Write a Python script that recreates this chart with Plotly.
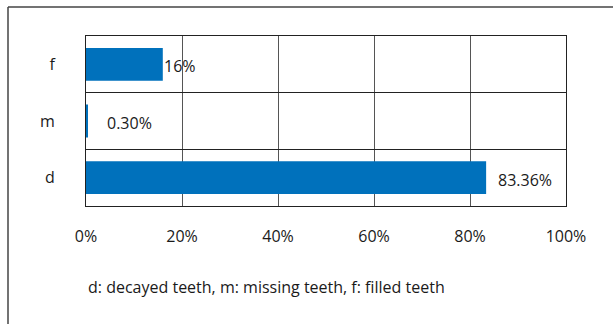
import plotly.graph_objects as go

# DMF components of the caries index (share of total, %)
categories = ["d", "m", "f"]
shares = [83.36, 0.30, 16]
value_labels = ["83.36%", "0.30%", "16%"]
x_ticks = [0, 20, 40, 60, 80, 100]
x_tick_labels = ["0%", "20%", "40%", "60%", "80%", "100%"]
footnote = "d: decayed teeth, m: missing teeth, f: filled teeth"

# horizontal nudge of each value label away from its bar end (px)
label_shift = [11, 19, 0]

FONT = "Open Sans"
FS = 16
BAR = "#0071BC"

fig = go.Figure(
    go.Bar(
        y=categories,
        x=shares,
        orientation="h",
        marker=dict(color=BAR, line=dict(width=0)),
        hoverinfo="skip",
    )
)

for cat, val, lab, dx in zip(categories, shares, value_labels, label_shift):
    fig.add_annotation(
        x=val, y=cat, xref="x", yref="y", text=lab, showarrow=False,
        xanchor="left", yanchor="middle", xshift=dx - 1, yshift=-2,
        font=dict(family=FONT, size=FS, color="#1a1a1a"),
    )

fig.add_annotation(
    x=0.0, y=-0.476, xref="paper", yref="paper", text=footnote,
    showarrow=False, xanchor="left", yanchor="middle",
    font=dict(family=FONT, size=FS, color="#1a1a1a"),
)

# outer frame: top and left edges
fig.add_shape(type="line", xref="paper", yref="paper",
              x0=-0.1625, x1=1.2, y0=1.17, y1=1.17,
              line=dict(color="#444444", width=1.5))
fig.add_shape(type="line", xref="paper", yref="paper",
              x0=-0.1625, x1=-0.1625, y0=1.17, y1=-0.8,
              line=dict(color="#444444", width=1.5))

fig.update_layout(
    width=613, height=324,
    margin=dict(l=86, r=47, t=36, b=118),
    paper_bgcolor="white", plot_bgcolor="white",
    showlegend=False, bargap=0.42,
    font=dict(family=FONT, size=FS, color="#1a1a1a"),
    xaxis=dict(
        range=[0, 100], tickvals=x_ticks, ticktext=x_tick_labels,
        showgrid=True, gridcolor="#555555", gridwidth=1,
        showline=True, linecolor="#222222", linewidth=1, mirror=True,
        zeroline=False, ticks="", ticklabelstandoff=16,
        fixedrange=True,
    ),
    yaxis=dict(
        categoryorder="array", categoryarray=categories,
        tickson="boundaries", showgrid=True, gridcolor="#222222", gridwidth=1,
        showline=True, linecolor="#222222", linewidth=1, mirror=True,
        ticks="", ticklabelstandoff=27, fixedrange=True,
    ),
)

fig.write_html("out.html")
